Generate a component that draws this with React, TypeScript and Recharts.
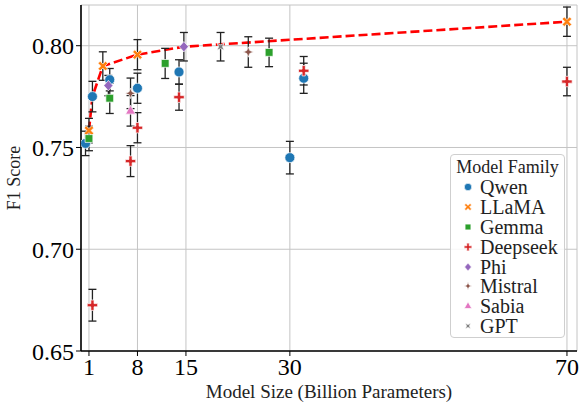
import React from "react";
import {
  ComposedChart,
  Scatter,
  Line,
  XAxis,
  YAxis,
  CartesianGrid,
  ErrorBar,
} from "recharts";

// model size (B params), F1 score, error half-width
const qwen = [
  { size: 0.5, f1: 0.752, err: 0.006 },
  { size: 1.5, f1: 0.775, err: 0.0075 },
  { size: 4, f1: 0.7833, err: 0.0055 },
  { size: 8, f1: 0.7791, err: 0.0074 },
  { size: 14, f1: 0.7871, err: 0.006 },
  { size: 30, f1: 0.745, err: 0.008 },
  { size: 32, f1: 0.784, err: 0.0074 },
];
const llama = [
  { size: 1, f1: 0.7583, err: 0.006 },
  { size: 3, f1: 0.79, err: 0.007 },
  { size: 8, f1: 0.7956, err: 0.0074 },
  { size: 70, f1: 0.8118, err: 0.0072 },
];
const gemma = [
  { size: 1, f1: 0.7544, err: 0.006 },
  { size: 4, f1: 0.7742, err: 0.0075 },
  { size: 12, f1: 0.7913, err: 0.0074 },
  { size: 27, f1: 0.7967, err: 0.007 },
];
const deepseek = [
  { size: 1.5, f1: 0.6725, err: 0.0078 },
  { size: 7, f1: 0.7433, err: 0.0076 },
  { size: 8, f1: 0.7597, err: 0.0074 },
  { size: 14, f1: 0.7747, err: 0.0064 },
  { size: 32, f1: 0.7877, err: 0.007 },
  { size: 70, f1: 0.7824, err: 0.007 },
];
const phi = [
  { size: 3.8, f1: 0.7804, err: 0.005 },
  { size: 14.7, f1: 0.7995, err: 0.007 },
];
const mistral = [
  { size: 7, f1: 0.7766, err: 0.0075 },
  { size: 24, f1: 0.7969, err: 0.0075 },
];
const sabia = [{ size: 7, f1: 0.768, err: 0.0075 }];
const gpt = [{ size: 20, f1: 0.7995, err: 0.007 }];

// best score per size (dashed red line)
const frontier = [
  { size: 1, f1: 0.7583 },
  { size: 1.5, f1: 0.775 },
  { size: 3, f1: 0.79 },
  { size: 8, f1: 0.7956 },
  { size: 14.7, f1: 0.7995 },
  { size: 70, f1: 0.8118 },
];

const xTicks = [1, 8, 15, 30, 70];
const yTicks = [0.65, 0.7, 0.75, 0.8];

const families = [
  { name: "Qwen", data: qwen, color: "#1f77b4", marker: "circle" },
  { name: "LLaMA", data: llama, color: "#ff7f0e", marker: "x" },
  { name: "Gemma", data: gemma, color: "#2ca02c", marker: "square" },
  { name: "Deepseek", data: deepseek, color: "#d62728", marker: "plus" },
  { name: "Phi", data: phi, color: "#9467bd", marker: "diamond" },
  { name: "Mistral", data: mistral, color: "#8c564b", marker: "star" },
  { name: "Sabia", data: sabia, color: "#e377c2", marker: "triangle" },
  { name: "GPT", data: gpt, color: "#7f7f7f", marker: "star45" },
];

const FONT = "Liberation Serif, DejaVu Serif, serif";

const rot = (pts: number[][], deg: number) => {
  const a = (deg * Math.PI) / 180;
  return pts.map(([x, y]) => [
    x * Math.cos(a) - y * Math.sin(a),
    x * Math.sin(a) + y * Math.cos(a),
  ]);
};

const crossPts = (t: number, l: number) => [
  [t, l], [t, t], [l, t], [l, -t], [t, -t], [t, -l],
  [-t, -l], [-t, -t], [-l, -t], [-l, t], [-t, t], [-t, l],
];

const starPts = (r: number, ri: number) => {
  const p: number[][] = [];
  for (let i = 0; i < 8; i++) {
    const a = (i * Math.PI) / 4 - Math.PI / 2;
    const rr = i % 2 === 0 ? r : ri;
    p.push([rr * Math.cos(a), rr * Math.sin(a)]);
  }
  return p;
};

const Marker = (props: any) => {
  const { cx, cy, kind, color } = props;
  const s = props.s || 1;
  if (cx == null || cy == null) return null;
  const poly = (pts: number[][]) => (
    <polygon
      points={pts.map(([x, y]) => `${cx + x * s},${cy + y * s}`).join(" ")}
      fill={color}
      stroke="#fff"
      strokeWidth={0.7}
    />
  );
  switch (kind) {
    case "circle":
      return <circle cx={cx} cy={cy} r={5 * s} fill={color} stroke="#fff" strokeWidth={0.7} />;
    case "x":
      return poly(rot(crossPts(1.5, 5.3), 45));
    case "square":
      return poly([[-3.9, -3.9], [3.9, -3.9], [3.9, 3.9], [-3.9, 3.9]]);
    case "plus":
      return poly(crossPts(1.6, 5.2));
    case "diamond":
      return poly([[0, -5.2], [4.6, 0], [0, 5.2], [-4.6, 0]]);
    case "star":
      return poly(starPts(5.2, 2.1));
    case "triangle":
      return poly([[0, -5.6], [5, 3.3], [-5, 3.3]]);
    case "star45":
      return poly(rot(starPts(5, 2), 45));
    default:
      return null;
  }
};

const YLabel = (props: any) => {
  const vb = props.viewBox || {};
  const x = vb.x + 14;
  const y = vb.y + vb.height / 2;
  return (
    <text
      x={x}
      y={y}
      transform={`rotate(-90, ${x}, ${y})`}
      textAnchor="middle"
      dominantBaseline="central"
      fontSize={18}
      fontFamily={FONT}
      fill="#222"
    >
      F1 Score
    </text>
  );
};

const XDOM: [number, number] = [-0.15, 71.45];
const YDOM: [number, number] = [0.65, 0.82];

export default function App() {
  return (
    <div
      style={{
        position: "absolute",
        left: 0,
        top: 0,
        width: 581,
        height: 407,
        background: "#fff",
        fontFamily: FONT,
      }}
    >
      <ComposedChart
        width={581}
        height={407}
        margin={{ top: 5, right: 4, left: 0, bottom: 0 }}
      >
        <CartesianGrid stroke="#c4c4c4" strokeWidth={1} />
        <XAxis
          dataKey="size"
          type="number"
          domain={XDOM}
          allowDataOverflow
          ticks={xTicks}
          height={56}
          tickSize={5}
          tickMargin={2}
          tick={{ fontSize: 24, fill: "#000", fontFamily: FONT }}
          axisLine={{ stroke: "#000", strokeWidth: 1.6 }}
          tickLine={{ stroke: "#000" }}
          label={{
            value: "Model Size (Billion Parameters)",
            position: "insideBottom",
            offset: 9,
            fontSize: 19,
            fill: "#222",
            fontFamily: FONT,
          }}
        />
        <XAxis
          xAxisId="top"
          orientation="top"
          type="number"
          domain={XDOM}
          allowDataOverflow
          height={0}
          tick={false}
          tickLine={false}
          axisLine={{ stroke: "#000", strokeWidth: 1.6 }}
        />
        <YAxis
          dataKey="f1"
          type="number"
          domain={YDOM}
          allowDataOverflow
          ticks={yTicks}
          width={81}
          tickSize={5}
          tickMargin={2}
          tickFormatter={(v: number) => v.toFixed(2)}
          tick={{ fontSize: 24, fill: "#000", fontFamily: FONT }}
          axisLine={{ stroke: "#000", strokeWidth: 1.6 }}
          tickLine={{ stroke: "#000" }}
          label={YLabel}
        />
        <YAxis
          yAxisId="right"
          orientation="right"
          type="number"
          domain={YDOM}
          allowDataOverflow
          width={0}
          tick={false}
          tickLine={false}
          axisLine={{ stroke: "#000", strokeWidth: 1.6 }}
        />
        <Line
          data={frontier}
          dataKey="f1"
          type="linear"
          stroke="#ff0000"
          strokeWidth={2.6}
          strokeDasharray="9 4"
          dot={false}
          activeDot={false}
          isAnimationActive={false}
        />
        {families.map((f) => (
          <Scatter
            key={f.name}
            name={f.name}
            data={f.data}
            dataKey="f1"
            isAnimationActive={false}
            shape={(p: any) => (
              <Marker cx={p.cx} cy={p.cy} kind={f.marker} color={f.color} />
            )}
          >
            <ErrorBar
              dataKey="err"
              direction="y"
              width={4}
              stroke="#222"
              strokeWidth={1.3}
            />
          </Scatter>
        ))}
      </ComposedChart>
      <div
        style={{
          position: "absolute",
          left: 450,
          top: 154,
          width: 115,
          height: 184,
          border: "1px solid #cfcfcf",
          borderRadius: 4,
          background: "rgba(255,255,255,0.85)",
          boxSizing: "border-box",
        }}
      >
        <div
          style={{
            textAlign: "center",
            fontSize: 18,
            lineHeight: "20px",
            marginTop: 2,
            color: "#222",
          }}
        >
          Model Family
        </div>
        {families.map((f) => (
          <div
            key={f.name}
            style={{
              display: "flex",
              alignItems: "center",
              height: 19.9,
              fontSize: 20,
              color: "#222",
            }}
          >
            <svg width={28} height={16} style={{ flexShrink: 0 }}>
              <Marker cx={17} cy={8} kind={f.marker} color={f.color} s={0.75} />
            </svg>
            <span style={{ marginLeft: 1, lineHeight: "20px" }}>{f.name}</span>
          </div>
        ))}
      </div>
    </div>
  );
}
